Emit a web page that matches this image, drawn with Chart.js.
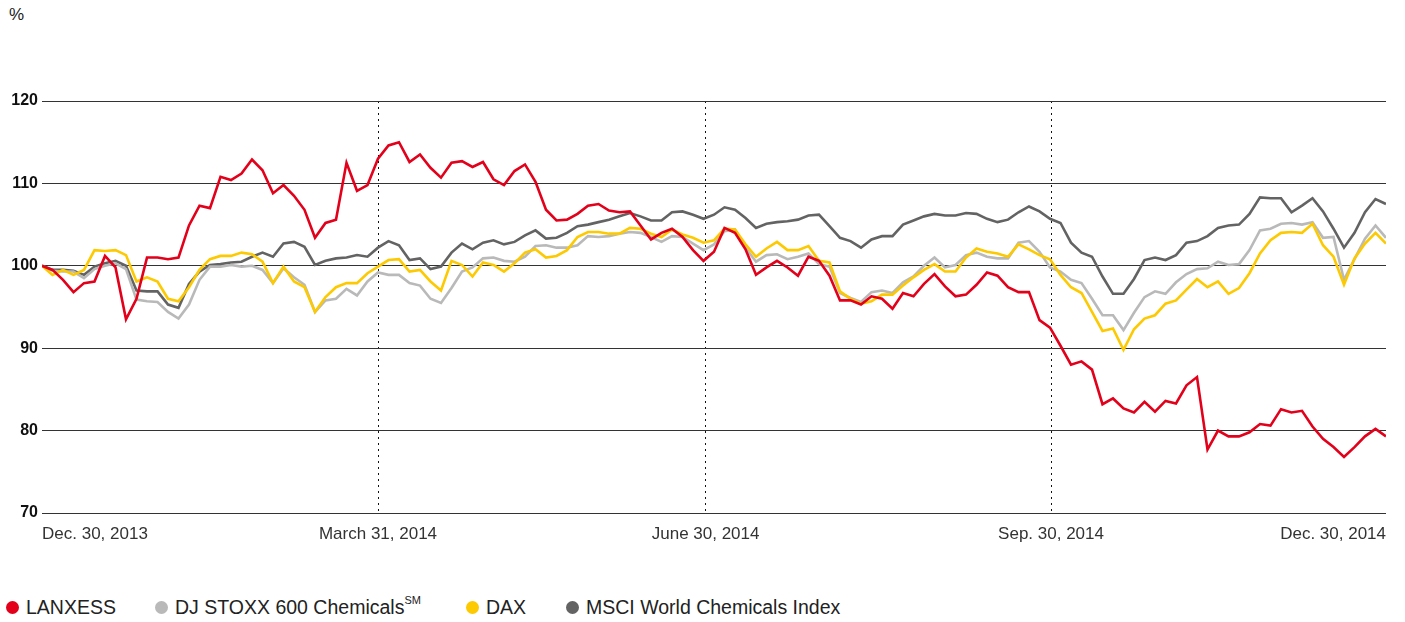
<!DOCTYPE html>
<html>
<head>
<meta charset="utf-8">
<title>Share performance 2014</title>
<script src="https://cdn.jsdelivr.net/npm/chart.js@4.4.0/dist/chart.umd.min.js"></script>
<style>
  body { margin: 0; background: #fff; font-family: "Liberation Sans", Arial, sans-serif; color: #222; }
  #wrap { position: relative; width: 1405px; height: 622px; overflow: hidden; }
  #chartBox { position: absolute; left: 0; top: 0; width: 1405px; height: 560px; }
  .unit { position: absolute; left: 9px; top: 5px; font-size: 17px; }
  .legend-item { position: absolute; top: 596px; height: 22px; display: flex; align-items: center; white-space: nowrap; font-size: 19.5px; }
  .legend-item .dot { width: 13px; height: 13px; border-radius: 50%; margin-right: 7px; flex: none; }
  .legend-item sup { font-size: 11px; position: relative; top: -2px; }
</style>
</head>
<body>
<div id="wrap">
  <div class="unit">%</div>
  <div id="chartBox"><canvas id="perfChart"></canvas></div>
  <div id="legend"></div>
</div>
<script>
// Indexed share performance, Dec. 30, 2013 = 100 (sampled about every second trading day)
const lanxess = [
  100, 99.5, 98.3, 96.8, 97.9, 98.1, 101.2, 99.8, 93.5, 96.0,
  101.0, 101.0, 100.8, 101.0, 104.9, 107.3, 107.0, 110.8, 110.4, 111.2,
  112.9, 111.6, 108.8, 109.8, 108.5, 106.8, 103.4, 105.2, 105.6, 112.5,
  109.1, 109.8, 113.0, 114.6, 115.0, 112.6, 113.5, 111.9, 110.7, 112.5,
  112.7, 112.0, 112.6, 110.5, 109.8, 111.5, 112.3, 110.2, 106.8, 105.5,
  105.6, 106.3, 107.3, 107.5, 106.7, 106.5, 106.6, 104.9, 103.2, 104.0,
  104.5, 103.5, 101.9, 100.6, 101.7, 104.6, 104.0, 102.0, 98.9, 99.8,
  100.6, 99.8, 98.8, 101.1, 100.6, 98.8, 95.8, 95.8, 95.3, 96.3,
  96.0, 94.8, 96.7, 96.3, 97.8, 99.0, 97.5, 96.3, 96.5, 97.7,
  99.2, 98.8, 97.4, 96.8, 96.8, 93.4, 92.5, 90.3, 88.0, 88.4,
  87.4, 83.2, 83.9, 82.7, 82.2, 83.5, 82.3, 83.6, 83.3, 85.5,
  86.5, 77.7, 80.0, 79.3, 79.3, 79.8, 80.8, 80.6, 82.6, 82.2,
  82.4, 80.5, 79.0, 78.0, 76.8, 78.0, 79.3, 80.2, 79.3
];

const stoxxChem = [
  100, 99.4, 99.3, 99.3, 98.5, 99.6, 100.0, 100.3, 99.6, 95.9,
  95.7, 95.6, 94.4, 93.6, 95.3, 98.3, 99.9, 99.9, 100.1, 99.9,
  100.0, 99.5, 97.9, 99.7, 98.6, 97.7, 94.4, 95.8, 96.0, 97.2,
  96.4, 98.1, 99.2, 98.9, 98.9, 97.9, 97.6, 96.0, 95.5, 97.3,
  99.3, 99.8, 100.9, 101.0, 100.6, 100.5, 101.1, 102.4, 102.5, 102.2,
  102.2, 102.5, 103.6, 103.5, 103.6, 103.9, 104.1, 104.0, 103.5, 102.9,
  103.6, 103.5, 102.7, 101.9, 102.6, 104.2, 104.4, 102.2, 100.5, 101.3,
  101.4, 100.8, 101.1, 101.5, 100.2, 99.9, 96.7, 96.1, 95.6, 96.8,
  97.0, 96.7, 98.0, 98.7, 100.0, 101.0, 99.8, 100.1, 101.3, 101.6,
  101.1, 100.9, 100.9, 102.8, 103.0, 101.7, 99.8, 99.3, 98.3, 97.9,
  96.0, 94.0, 94.0, 92.2, 94.3, 96.2, 96.9, 96.6, 98.0, 99.0,
  99.6, 99.7, 100.5, 100.1, 100.2, 101.9, 104.3, 104.5, 105.1, 105.2,
  105.0, 105.3, 103.4, 103.5, 98.3, 100.8, 103.3, 104.9, 103.4
];

const dax = [
  100, 98.9, 99.5, 98.9, 99.5, 101.9, 101.8, 101.9, 101.3, 98.1,
  98.6, 98.1, 96.0, 95.7, 97.4, 99.5, 100.8, 101.2, 101.2, 101.6,
  101.4, 100.5, 97.9, 99.9, 98.1, 97.4, 94.4, 96.2, 97.4, 97.9,
  97.9, 99.1, 99.9, 100.7, 100.8, 99.3, 99.5, 98.1, 97.0, 100.6,
  100.1, 98.7, 100.4, 100.1, 99.3, 100.3, 101.6, 102.0, 101.0, 101.2,
  101.9, 103.5, 104.1, 104.1, 103.9, 103.9, 104.6, 104.5, 103.9, 103.5,
  104.4, 103.8, 103.4, 102.8, 103.1, 104.5, 104.4, 102.6, 101.1, 102.1,
  102.9, 101.9, 101.9, 102.4, 100.6, 100.4, 96.9, 96.0, 95.4, 95.7,
  96.5, 96.5, 97.6, 98.6, 99.5, 100.2, 99.3, 99.3, 101.0, 102.1,
  101.7, 101.5, 101.1, 102.6, 102.0, 101.3, 100.8, 98.9, 97.4, 96.7,
  94.4, 92.1, 92.4, 89.8, 92.3, 93.6, 94.0, 95.4, 95.8, 97.1,
  98.4, 97.4, 98.1, 96.6, 97.3, 99.1, 101.5, 103.1, 104.0, 104.1,
  104.0, 105.1, 102.5, 101.1, 97.7, 100.9, 102.7, 104.0, 102.7
];

const msciChem = [
  100, 99.5, 99.5, 99.4, 98.9, 99.9, 100.3, 100.6, 100.0, 97.0,
  96.9, 96.9, 95.3, 94.9, 97.8, 99.3, 100.1, 100.2, 100.4, 100.5,
  101.1, 101.6, 101.1, 102.7, 102.9, 102.3, 100.1, 100.6, 100.9, 101.0,
  101.3, 101.1, 102.2, 103.0, 102.5, 100.7, 100.9, 99.6, 99.9, 101.6,
  102.7, 102.0, 102.8, 103.1, 102.6, 102.9, 103.7, 104.3, 103.3, 103.4,
  104.0, 104.8, 105.0, 105.3, 105.6, 106.0, 106.4, 106.0, 105.5, 105.5,
  106.5, 106.6, 106.2, 105.7, 106.2, 107.1, 106.8, 105.8, 104.6, 105.1,
  105.3, 105.4, 105.6, 106.1, 106.2, 104.8, 103.4, 103.0, 102.2, 103.2,
  103.6, 103.6, 105.0, 105.5, 106.0, 106.3, 106.1, 106.1, 106.4, 106.3,
  105.7, 105.3, 105.6, 106.5, 107.2, 106.6, 105.7, 105.2, 102.8, 101.6,
  101.1, 98.7, 96.6, 96.6, 98.4, 100.7, 101.0, 100.7, 101.3, 102.8,
  103.0, 103.6, 104.6, 104.9, 105.0, 106.3, 108.3, 108.2, 108.2, 106.5,
  107.3, 108.2, 106.6, 104.5, 102.2, 104.0, 106.5, 108.1, 107.5
];

// x axis: sample index, date labels sit at these sample positions
const tickPos = [0, 32, 63.2, 96.1, 128];
const tickLabels = ['Dec. 30, 2013', 'March 31, 2014', 'June 30, 2014', 'Sep. 30, 2014', 'Dec. 30, 2014'];
const yTicks = [70, 80, 90, 100, 110, 120];

const seriesNames = ['LANXESS', 'DJ STOXX 600 Chemicals', 'DAX', 'MSCI World Chemicals Index'];
const seriesColors = ['#e2001a', '#b9b9b9', '#fdc900', '#636363'];

const xIndex = lanxess.map((_, i) => i);

function makeLegend() {
    const lefts = [6, 155, 466, 566];
    const box = document.getElementById('legend');
    seriesNames.forEach((name, i) => {
        const item = document.createElement('div');
        item.className = 'legend-item';
        item.style.left = lefts[i] + 'px';
        const dot = document.createElement('span');
        dot.className = 'dot';
        dot.style.background = seriesColors[i];
        item.appendChild(dot);
        const label = document.createElement('span');
        label.textContent = name;
        if (i === 1) {
            const sup = document.createElement('sup');
            sup.textContent = 'SM';
            label.appendChild(sup);
        }
        item.appendChild(label);
        box.appendChild(item);
    });
}

function makeChart() {
    const seriesData = [lanxess, stoxxChem, dax, msciChem];
    const drawOrder = [0, 2, 1, 3]; // red on top, then DAX, STOXX, MSCI at the back

    new Chart(document.getElementById('perfChart'), {
        type: 'line',
        data: {
            labels: xIndex,
            datasets: seriesData.map((values, i) => ({
                label: seriesNames[i],
                data: values,
                borderColor: seriesColors[i],
                backgroundColor: seriesColors[i],
                borderWidth: 2.6,
                pointRadius: 0,
                tension: 0,
                fill: false,
                order: drawOrder[i]
            }))
        },
        options: {
            responsive: true,
            maintainAspectRatio: false,
            animation: false,
            layout: {
                padding: { top: 101, right: 19, bottom: 17, left: 0 }
            },
            plugins: {
                legend: { display: false },
                tooltip: { enabled: false }
            },
            scales: {
                x: {
                    type: 'linear',
                    min: 0,
                    max: xIndex.length - 1,
                    afterBuildTicks: (scale) => {
                        scale.ticks = tickPos.map(v => ({ value: v }));
                    },
                    afterFit: (scale) => { scale.height = 30; },
                    grid: {
                        drawTicks: false,
                        lineWidth: 1,
                        color: (ctx) => (ctx.index === 0 || ctx.index === tickPos.length - 1) ? 'rgba(0,0,0,0)' : '#111'
                    },
                    border: { display: false, dash: [2, 4] },
                    ticks: {
                        autoSkip: false,
                        maxRotation: 0,
                        align: 'inner',
                        padding: 11,
                        color: '#333',
                        font: { family: '"Liberation Sans", Arial, sans-serif', size: 17 },
                        callback: (value, index) => tickLabels[index]
                    }
                },
                y: {
                    min: yTicks[0],
                    max: yTicks[yTicks.length - 1],
                    afterBuildTicks: (scale) => {
                        scale.ticks = yTicks.map(v => ({ value: v }));
                    },
                    afterFit: (scale) => { scale.width = 42; },
                    grid: {
                        drawTicks: false,
                        lineWidth: 1,
                        color: '#333'
                    },
                    border: { display: false },
                    ticks: {
                        padding: 4,
                        color: '#111',
                        font: { family: '"Liberation Sans", Arial, sans-serif', size: 16, weight: 'bold' }
                    }
                }
            }
        }
    });
}

makeLegend();
makeChart();
</script>
</body>
</html>
